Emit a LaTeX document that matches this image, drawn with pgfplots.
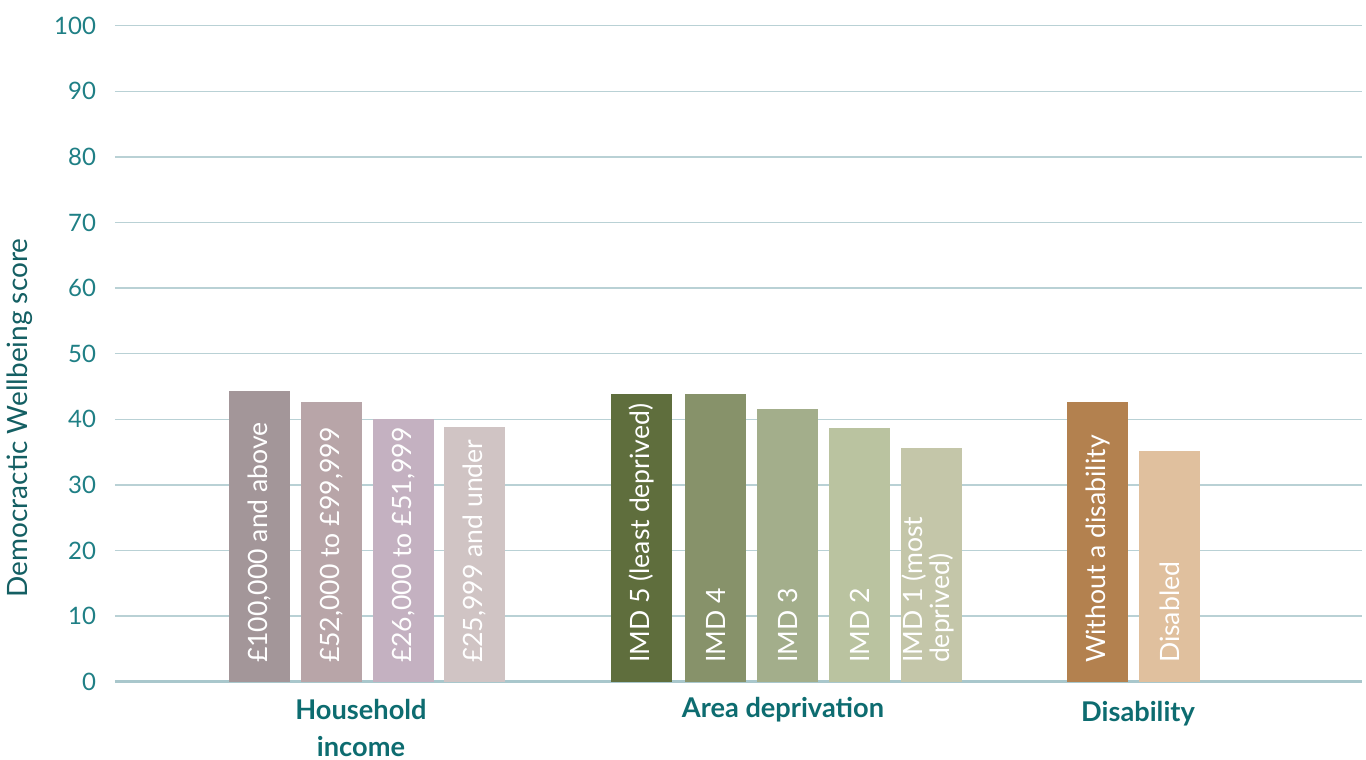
\documentclass[border=0pt]{standalone}
\usepackage{fontspec}
\setmainfont{Lato}
\usepackage{pgfplots}
\pgfplotsset{compat=1.18}
\definecolor{tickc}{HTML}{1F7F85}
\definecolor{labc}{HTML}{145F63}
\definecolor{catc}{HTML}{0D6C70}
\definecolor{gridc}{HTML}{B9D1D5}
\definecolor{basec}{HTML}{A9C7CC}
\definecolor{h1}{HTML}{A39699}
\definecolor{h2}{HTML}{B8A5A8}
\definecolor{h3}{HTML}{C4B1C1}
\definecolor{h4}{HTML}{D0C4C4}
\definecolor{a1}{HTML}{5F6E3D}
\definecolor{a2}{HTML}{87926A}
\definecolor{a3}{HTML}{A3AE8B}
\definecolor{a4}{HTML}{BAC3A0}
\definecolor{a5}{HTML}{C4C6A9}
\definecolor{d1}{HTML}{B3814F}
\definecolor{d2}{HTML}{E0C09E}
\begin{document}
\begin{tikzpicture}[x=1pt,y=1pt]
\path[use as bounding box] (0,0) rectangle (683,380);
\begin{axis}[
  at={(57.5pt,39.15pt)}, anchor=south west,
  scale only axis, width=623.5pt, height=328pt,
  xmin=115, xmax=1362, ymin=0, ymax=100,
  ytick={0,10,...,100}, xtick=\empty,
  ymajorgrids, grid style={color=gridc, line width=0.7pt},
  axis line style={draw=none},
  major tick length=0pt,
  yticklabel style={font=\fontsize{12}{14}\selectfont, color=tickc, xshift=-6pt},
  /pgf/number format/assume math mode=true,
  clip=false,
  ylabel={Democractic Wellbeing score},
  ylabel style={at={(axis description cs:-0.076,0.402)}, anchor=center, font=\fontsize{14}{16}\selectfont, color=labc},
]
\draw[basec, line width=1.5pt] (axis cs:115,0) -- (axis cs:1362,0);
% Household income
\addplot[ybar, bar width=61, bar shift=0pt, fill=h1, draw=none] coordinates {(259.5,44.3)};
\addplot[ybar, bar width=61, bar shift=0pt, fill=h2, draw=none] coordinates {(331.5,42.6)};
\addplot[ybar, bar width=61, bar shift=0pt, fill=h3, draw=none] coordinates {(403.5,40.0)};
\addplot[ybar, bar width=61, bar shift=0pt, fill=h4, draw=none] coordinates {(474.5,38.8)};
% Area deprivation
\addplot[ybar, bar width=61, bar shift=0pt, fill=a1, draw=none] coordinates {(641.5,43.9)};
\addplot[ybar, bar width=61, bar shift=0pt, fill=a2, draw=none] coordinates {(715.5,43.9)};
\addplot[ybar, bar width=61, bar shift=0pt, fill=a3, draw=none] coordinates {(787.5,41.6)};
\addplot[ybar, bar width=61, bar shift=0pt, fill=a4, draw=none] coordinates {(859.5,38.7)};
\addplot[ybar, bar width=61, bar shift=0pt, fill=a5, draw=none] coordinates {(931.5,35.6)};
% Disability
\addplot[ybar, bar width=61, bar shift=0pt, fill=d1, draw=none] coordinates {(1097.5,42.6)};
\addplot[ybar, bar width=61, bar shift=0pt, fill=d2, draw=none] coordinates {(1169.5,35.2)};
% bar labels
\tikzset{bl/.style={rotate=90, anchor=west, text=white, font=\fontsize{13.3}{11.5}\selectfont, inner sep=0pt, align=left}}
\node[bl] at (axis cs:259.5,2.8) {£100,000 and above};
\node[bl] at (axis cs:331.5,2.8) {£52,000 to £99,999};
\node[bl] at (axis cs:403.5,2.8) {£26,000 to £51,999};
\node[bl] at (axis cs:474.5,2.8) {£25,999 and under};
\node[bl] at (axis cs:641.5,2.8) {IMD 5 (least deprived)};
\node[bl] at (axis cs:715.5,2.8) {IMD 4};
\node[bl] at (axis cs:787.5,2.8) {IMD 3};
\node[bl] at (axis cs:859.5,2.8) {IMD 2};
\node[bl] at (axis cs:928,2.8) {IMD 1 (most\\deprived)};
\node[bl] at (axis cs:1097.5,2.8) {Without a disability};
\node[bl] at (axis cs:1169.5,2.8) {Disabled};
% category labels
\tikzset{cl/.style={font=\fontsize{13.6}{18.5}\selectfont\bfseries, text=catc, align=center}}
\node[cl] at (axis cs:361,-7.13) {Household\\income};
\node[cl] at (axis cs:783,-4.3) {Area deprivation};
\node[cl] at (axis cs:1138,-4.9) {Disability};
\end{axis}
\end{tikzpicture}
\end{document}
